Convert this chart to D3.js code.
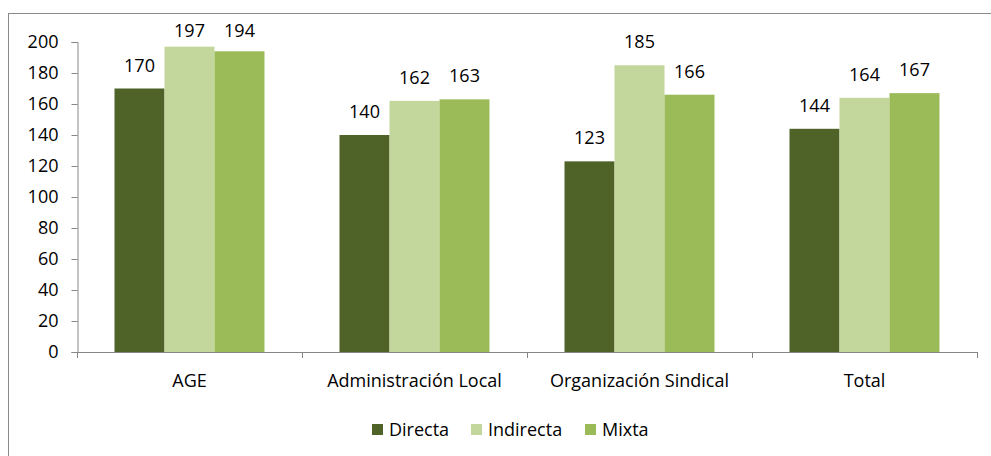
<!DOCTYPE html>
<html>
<head>
<meta charset="utf-8">
<script src="https://cdn.jsdelivr.net/npm/d3@7"></script>
<style>
  html, body { margin: 0; padding: 0; background: #fff; }
  svg { display: block; font-family: "Open Sans", "Noto Sans", sans-serif; }
</style>
</head>
<body>
<svg id="chart" width="991" height="456"></svg>
<script>
// Categories, series and values
const categories = ["AGE", "Administración Local", "Organización Sindical", "Total"];
const seriesNames = ["Directa", "Indirecta", "Mixta"];
const directa   = [170, 140, 123, 144];
const indirecta = [197, 162, 185, 164];
const mixta     = [194, 163, 166, 167];
const yTicks = [0, 20, 40, 60, 80, 100, 120, 140, 160, 180, 200];
const colors = ["#4F6228", "#C3D69B", "#9BBB59"];

const FONT = "'Open Sans', 'Noto Sans', sans-serif";
const FS = 18;

const seriesValues = [directa, indirecta, mixta];
const table = categories.map((c, i) => ({
  category: c,
  values: seriesNames.map((s, j) => ({ series: s, value: seriesValues[j][i] }))
}));

const svg = d3.select("#chart");

// Outer chart frame (extends past the right/bottom edges)
svg.append("rect")
  .attr("x", 8.5).attr("y", 13.5)
  .attr("width", 1000).attr("height", 500)
  .attr("fill", "none").attr("stroke", "#8a8a8a").attr("stroke-width", 1);

const plot = { left: 77, right: 977, top: 42, bottom: 352 };

const x0 = d3.scaleBand().domain(categories).range([plot.left, plot.right]).paddingInner(0).paddingOuter(0);
const x1 = d3.scaleBand().domain(seriesNames).range([0, 150]).padding(0);
const y = d3.scaleLinear().domain([0, 200]).range([plot.bottom, plot.top]);
const color = d3.scaleOrdinal().domain(seriesNames).range(colors);

const groupOffset = (x0.bandwidth() - 150) / 2;

// Bars
const groups = svg.append("g").selectAll("g").data(table).join("g")
  .attr("transform", d => `translate(${x0(d.category) + groupOffset},0)`);

groups.selectAll("rect").data(d => d.values).join("rect")
  .attr("x", d => x1(d.series))
  .attr("y", d => y(d.value))
  .attr("width", x1.bandwidth())
  .attr("height", d => y(0) - y(d.value))
  .attr("fill", d => color(d.series));

// Value labels above each bar, kept inside the chart area at the top
groups.selectAll("text").data(d => d.values).join("text")
  .attr("x", d => x1(d.series) + x1.bandwidth() / 2)
  .attr("y", d => Math.max(y(d.value) - 17, 37))
  .attr("text-anchor", "middle")
  .attr("font-size", FS)
  .attr("fill", "#000")
  .text(d => d.value);

// Y axis
const yAxis = svg.append("g")
  .attr("transform", `translate(${plot.left + 0.5},0)`)
  .call(d3.axisLeft(y).tickValues(yTicks).tickSize(6).tickPadding(13));
yAxis.selectAll("path, line").attr("stroke", "#868686");
yAxis.selectAll("text").attr("font-size", FS).attr("fill", "#000")
  .attr("font-family", FONT);

// X axis: baseline with ticks at category boundaries
const xAxis = svg.append("g");
xAxis.append("line")
  .attr("x1", plot.left).attr("x2", plot.right + 0.5)
  .attr("y1", y(0) + 0.5).attr("y2", y(0) + 0.5)
  .attr("stroke", "#868686");
const boundaries = categories.map(c => x0(c)).concat([plot.right]);
xAxis.selectAll("line.tick").data(boundaries).join("line")
  .attr("class", "tick")
  .attr("x1", d => d + 0.5).attr("x2", d => d + 0.5)
  .attr("y1", y(0)).attr("y2", y(0) + 6)
  .attr("stroke", "#868686");
xAxis.selectAll("text").data(categories).join("text")
  .attr("x", d => x0(d) + x0.bandwidth() / 2)
  .attr("y", 387)
  .attr("text-anchor", "middle")
  .attr("font-size", FS)
  .attr("fill", "#000")
  .text(d => d);

// Legend
const legendX = [372, 471, 585];
const legend = svg.append("g").selectAll("g").data(seriesNames).join("g")
  .attr("transform", (d, i) => `translate(${legendX[i]},424)`);
legend.append("rect")
  .attr("width", 11).attr("height", 11)
  .attr("fill", d => color(d));
legend.append("text")
  .attr("x", 17).attr("y", 12)
  .attr("font-size", FS)
  .attr("fill", "#000")
  .text(d => d);
</script>
</body>
</html>
